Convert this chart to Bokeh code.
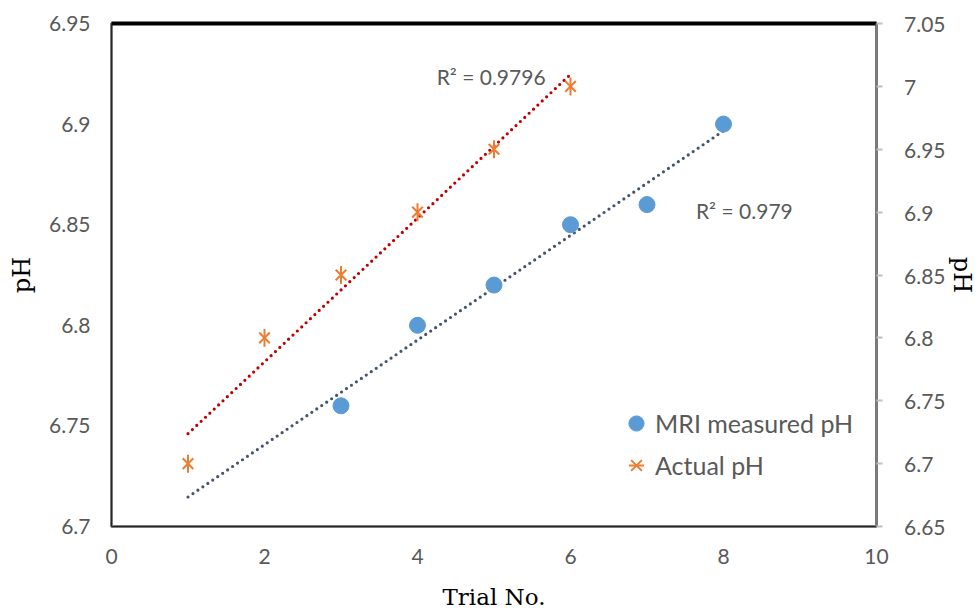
import numpy as np
from bokeh.plotting import figure
from bokeh.models import Range1d, LinearAxis, FixedTicker, Legend, LegendItem, Label
from bokeh.embed import file_html
from bokeh.resources import INLINE

# ---- data ----
trial_mri = [3, 4, 5, 6, 7, 8]
ph_mri = [6.76, 6.80, 6.82, 6.85, 6.86, 6.90]
trial_actual = [1, 2, 3, 4, 5, 6]
ph_actual = [6.70, 6.80, 6.85, 6.90, 6.95, 7.00]
trend_mri_x = [1, 8]
trend_actual_x = [1, 6]
r2_mri_label = "R² = 0.979"
r2_actual_label = "R² = 0.9796"
series_names = ["MRI measured pH", "Actual pH"]
x_ticks = [0, 2, 4, 6, 8, 10]
x_tick_labels = ["0", "2", "4", "6", "8", "10"]
left_ticks = [6.7, 6.75, 6.8, 6.85, 6.9, 6.95]
left_tick_labels = ["6.7", "6.75", "6.8", "6.85", "6.9", "6.95"]
right_ticks = [6.65, 6.7, 6.75, 6.8, 6.85, 6.9, 6.95, 7.0, 7.05]
right_tick_labels = ["6.65", "6.7", "6.75", "6.8", "6.85", "6.9", "6.95", "7", "7.05"]

# linear trendlines fitted to the data
k1, b1 = np.polyfit(trial_mri, ph_mri, 1)
k2, b2 = np.polyfit(trial_actual, ph_actual, 1)
trend_mri_y = [k1 * x + b1 for x in trend_mri_x]
trend_actual_y = [k2 * x + b2 for x in trend_actual_x]

TICK_FONT = "Lato"
GRAY = "#595959"
PAD = "\u00a0" * 4  # visual gap between right ticks and their labels

p = figure(width=979, height=612, output_backend="svg", toolbar_location=None,
           x_range=Range1d(0, 10), y_range=Range1d(6.7, 6.95),
           min_border_left=111, min_border_right=101, min_border_top=23, min_border_bottom=84)
p.extra_y_ranges = {"right": Range1d(6.65, 7.05)}
p.grid.visible = False
p.background_fill_color = "white"
p.border_fill_color = "white"
p.outline_line_color = "#7a7a7a"
p.outline_line_width = 3

# bottom axis
xa = p.xaxis[0]
xa.ticker = FixedTicker(ticks=x_ticks)
xa.major_label_overrides = dict(zip(x_ticks, x_tick_labels))
xa.axis_label = "Trial No."
xa.axis_label_text_font = "DejaVu Serif"
xa.axis_label_text_font_size = "23px"
xa.axis_label_text_font_style = "normal"
xa.axis_label_text_color = "black"
xa.axis_label_standoff = 17
xa.major_label_text_font = TICK_FONT
xa.major_label_text_font_size = "21px"
xa.major_label_text_color = GRAY
xa.major_label_standoff = 16
xa.major_tick_line_color = None
xa.minor_tick_line_color = None
xa.axis_line_color = "#262626"
xa.axis_line_width = 1

# left axis
ya = p.yaxis[0]
ya.ticker = FixedTicker(ticks=left_ticks)
ya.major_label_overrides = dict(zip(left_ticks, left_tick_labels))
ya.axis_label = "pH"
ya.axis_label_text_font = "DejaVu Serif"
ya.axis_label_text_font_size = "24px"
ya.axis_label_text_font_style = "normal"
ya.axis_label_text_color = "black"
ya.axis_label_standoff = 10
ya.major_label_text_font = TICK_FONT
ya.major_label_text_font_size = "21px"
ya.major_label_text_color = GRAY
ya.major_label_standoff = 15
ya.major_tick_line_color = None
ya.minor_tick_line_color = None
ya.axis_line_color = "#262626"
ya.axis_line_width = 1

# right axis
ra = LinearAxis(y_range_name="right", ticker=FixedTicker(ticks=right_ticks))
ra.major_label_overrides = {t: PAD + s for t, s in zip(right_ticks, right_tick_labels)}
ra.axis_label = "pH"
ra.axis_label_text_font = "DejaVu Serif"
ra.axis_label_text_font_size = "24px"
ra.axis_label_text_font_style = "normal"
ra.axis_label_text_color = "black"
ra.axis_label_standoff = 0
ra.major_label_text_font = TICK_FONT
ra.major_label_text_font_size = "21px"
ra.major_label_text_color = GRAY
ra.major_label_standoff = 0
ra.major_tick_out = 6
ra.major_tick_in = 0
ra.major_tick_line_color = "#bfbfbf"
ra.major_tick_line_width = 2
ra.minor_tick_line_color = None
ra.axis_line_color = "#7a7a7a"
ra.axis_line_width = 2
p.add_layout(ra, "right")

# top border (thick black)
ta = LinearAxis(ticker=FixedTicker(ticks=[]))
ta.major_tick_line_color = None
ta.minor_tick_line_color = None
ta.axis_line_color = "black"
ta.axis_line_width = 4
p.add_layout(ta, "above")

# trendlines
p.line(trend_mri_x, trend_mri_y, line_color="#44546A", line_width=3.2,
       line_dash="0 6", line_cap="round")
p.line(trend_actual_x, trend_actual_y, line_color="#C00000", line_width=3.2,
       line_dash="0 6", line_cap="round", y_range_name="right")

# points
r_mri = p.scatter(trial_mri, ph_mri, marker="circle", size=16,
                  fill_color="#5B9BD5", line_color="#5B9BD5")
r_act1 = p.scatter(trial_actual, ph_actual, marker="x", size=15, line_color="#ED7D31",
                   line_width=2, y_range_name="right")
r_act2 = p.scatter(trial_actual, ph_actual, marker="dash", size=18, angle=np.pi / 2,
                   line_color="#ED7D31", line_width=2, y_range_name="right")

# R² labels
p.add_layout(Label(x=4.25, y=6.9238, text=r2_actual_label, text_font=TICK_FONT,
                   text_font_size="21px", text_color=GRAY, text_baseline="middle"))
p.add_layout(Label(x=7.64, y=6.857, text=r2_mri_label, text_font=TICK_FONT,
                   text_font_size="21px", text_color=GRAY, text_baseline="middle"))

legend = Legend(items=[LegendItem(label=series_names[0], renderers=[r_mri]),
                       LegendItem(label=series_names[1], renderers=[r_act1, r_act2])],
                location=(506, 42), margin=0, padding=0, spacing=4,
                glyph_width=38, glyph_height=38, label_height=38, label_standoff=0,
                label_text_font=TICK_FONT, label_text_font_size="25px",
                label_text_color=GRAY, border_line_color=None,
                background_fill_alpha=0)
p.add_layout(legend)

open("out.html", "w").write(file_html(p, INLINE))
